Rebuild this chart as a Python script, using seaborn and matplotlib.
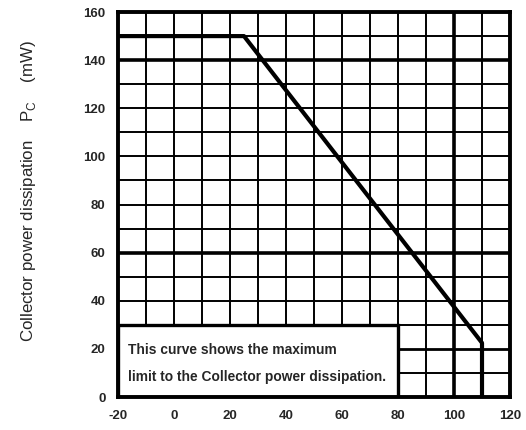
import matplotlib
matplotlib.use("Agg")
import matplotlib.pyplot as plt
import seaborn as sns
import numpy as np
import pandas as pd
from matplotlib.patches import Rectangle

# Derating curve: ambient temperature (deg C) vs max collector power (mW)
temp_c = [-20, 25, 110, 110]
power_mw = [150, 150, 22.5, 0]

x_ticks = [-20, 0, 20, 40, 60, 80, 100, 120]
y_ticks = [0, 20, 40, 60, 80, 100, 120, 140, 160]
note_lines = ["This curve shows the maximum",
              "limit to the Collector power dissipation."]

sns.set_style("white")
plt.rcParams['font.family'] = ['Liberation Sans', 'DejaVu Sans']

fig = plt.figure(figsize=(5.26, 4.3), dpi=100)
ax = fig.add_axes([0.2243, 0.0767, 0.7453, 0.8953])

# grid every 10 units, a few heavier lines
for xv in np.arange(-10, 120, 10):
    lw = 2.6 if xv == 100 else 1.4
    ax.axvline(xv, color="black", lw=lw, zorder=1)
for yv in np.arange(10, 160, 10):
    lw = 2.6 if yv in (60, 140) else 1.4
    if yv == 20:
        lw = 2.0
    ax.axhline(yv, color="black", lw=lw, zorder=1)

# note box covers the grid in the lower left
ax.add_patch(Rectangle((-20, 0), 100, 30, facecolor="white", edgecolor="black",
                       lw=2.4, zorder=2))
for i, line in enumerate(note_lines):
    ax.text(-16.5, 19.6 - 11.3 * i, line, fontsize=9.9, fontweight="bold",
            va="center", ha="left", zorder=3)

df = pd.DataFrame({"temp": temp_c, "power": power_mw})
sns.lineplot(data=df, x="temp", y="power", sort=False, estimator=None,
             color="black", lw=3, ax=ax, zorder=4)

ax.set_xlim(-20, 120)
ax.set_ylim(0, 160)
ax.set_xticks(x_ticks)
ax.set_yticks(y_ticks)
ax.set_xticklabels([str(v) for v in x_ticks], fontweight="bold", fontsize=9.5)
ax.set_yticklabels([str(v) for v in y_ticks], fontweight="bold", fontsize=9.5)
ax.tick_params(length=0, pad=9)
ax.set_xlabel("")
ax.set_ylabel("Collector power dissipation    P$_\\mathregular{C}$    (mW)",
              fontsize=12.2)
ax.yaxis.set_label_coords(-0.205, 0.535)
for s in ax.spines.values():
    s.set_color("black")
    s.set_linewidth(2.8)
    s.set_zorder(5)

fig.savefig("out.png", dpi=100)
